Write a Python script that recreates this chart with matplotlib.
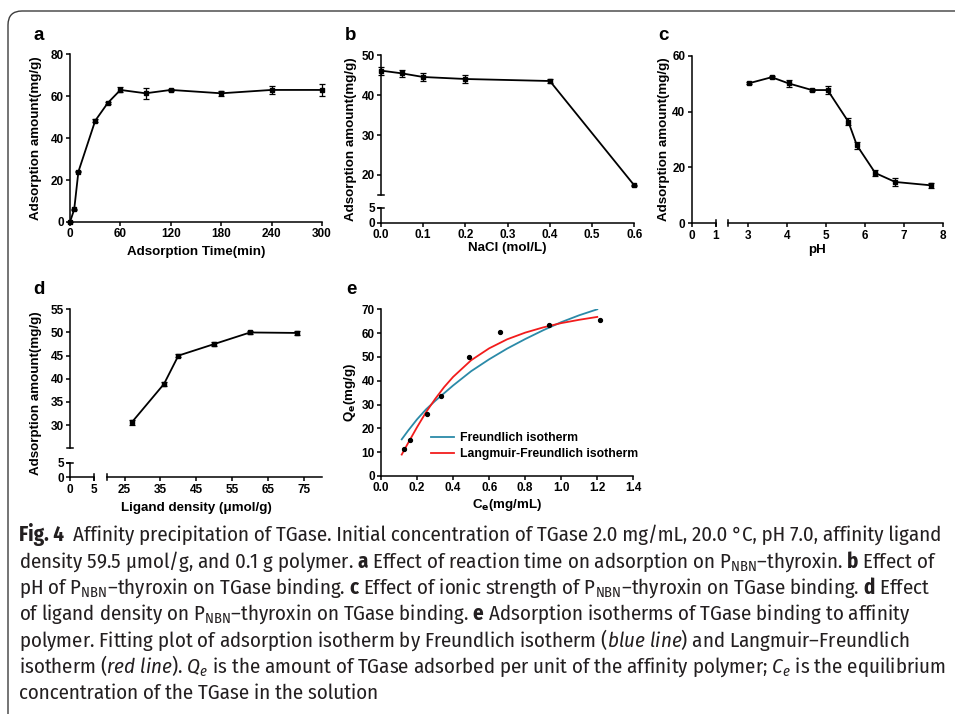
import matplotlib
matplotlib.use('Agg')
import matplotlib.pyplot as plt
from matplotlib import font_manager
from matplotlib.lines import Line2D
from matplotlib.patches import FancyBboxPatch
from matplotlib.transforms import IdentityTransform
from matplotlib.ticker import FormatStrFormatter

W, H = 955, 714

# ---- data ----
# a: adsorption vs time
time_min = [0, 5, 10, 30, 45, 60, 90, 120, 180, 240, 300]
ads_time = [0, 6.0, 24.0, 48.3, 56.8, 63.0, 61.4, 63.0, 61.4, 63.0, 63.0]
ads_time_err = [0, 0.3, 0.3, 0.8, 0.5, 1.2, 2.5, 0.5, 1.3, 1.9, 2.9]
# b: adsorption vs NaCl
nacl = [0.0, 0.05, 0.1, 0.2, 0.4, 0.6]
ads_nacl = [46.1, 45.4, 44.5, 44.0, 43.5, 17.4]
ads_nacl_err = [1.0, 0.9, 1.1, 1.1, 0.5, 0.2]
# c: adsorption vs pH
ph = [3.02, 3.61, 4.04, 4.64, 5.04, 5.57, 5.79, 6.26, 6.77, 7.68]
ads_ph = [50.1, 52.3, 50.1, 47.7, 47.7, 36.4, 27.9, 18.0, 14.8, 13.6]
ads_ph_err = [0.4, 0.4, 1.3, 0.4, 1.3, 1.2, 1.3, 1.0, 1.3, 1.0]
# d: adsorption vs ligand density
ligand = [27, 36, 40, 50, 60, 73]
ads_ligand = [30.6, 38.9, 45.0, 47.5, 50.0, 49.9]
ads_ligand_err = [0.5, 0.5, 0.3, 0.5, 0.3, 0.4]
# e: isotherm points and the two fitted curves
ce = [0.128, 0.161, 0.257, 0.331, 0.488, 0.662, 0.930, 1.217]
qe = [11.2, 15.1, 26.0, 33.8, 50.0, 60.4, 63.4, 65.4]
fr_ce = [0.115, 0.15, 0.2, 0.25, 0.3, 0.4, 0.5, 0.6, 0.7, 0.8, 0.9, 1.0, 1.1, 1.2]
fr_qe = [15.4, 19.0, 23.8, 28.0, 31.5, 38.0, 44.0, 49.0, 53.5, 57.5, 61.2, 64.6, 67.5, 70.0]
lf_ce = [0.115, 0.15, 0.2, 0.25, 0.3, 0.35, 0.4, 0.5, 0.6, 0.7, 0.8, 0.9, 1.0, 1.1, 1.2]
lf_qe = [9.0, 13.8, 20.5, 26.8, 32.3, 37.3, 41.6, 48.6, 53.6, 57.4, 60.2, 62.4, 64.2, 65.6, 66.8]

fig_tag = 'Fig. 4'
caption = [
    'Affinity precipitation of TGase. Initial concentration of TGase 2.0 mg/mL, 20.0 °C, pH 7.0, affinity ligand',
    r'density 59.5 μmol/g, and 0.1 g polymer. $\mathbf{a}$ Effect of reaction time on adsorption on P$_{\mathrm{NBN}}$–thyroxin. $\mathbf{b}$ Effect of',
    r'pH of P$_{\mathrm{NBN}}$–thyroxin on TGase binding. $\mathbf{c}$ Effect of ionic strength of P$_{\mathrm{NBN}}$–thyroxin on TGase binding. $\mathbf{d}$ Effect',
    r'of ligand density on P$_{\mathrm{NBN}}$–thyroxin on TGase binding. $\mathbf{e}$ Adsorption isotherms of TGase binding to affinity',
    r'polymer. Fitting plot of adsorption isotherm by Freundlich isotherm ($\mathit{blue\ line}$) and Langmuir–Freundlich',
    r'isotherm ($\mathit{red\ line}$). $Q_e$ is the amount of TGase adsorbed per unit of the affinity polymer; $C_e$ is the equilibrium',
    r'concentration of the TGase in the solution',
]

# ---- fonts ----
names = {f.name for f in font_manager.fontManager.ttflist}
cap_font = 'Lato'
for cand in ['Fira Sans Condensed', 'Roboto Condensed', 'Encode Sans Condensed',
             'IBM Plex Sans Condensed', 'Asap Condensed', 'Archivo Narrow', 'PT Sans Narrow']:
    if cand in names:
        cap_font = cand
        break
plt.rcParams['font.family'] = ['Liberation Sans', 'DejaVu Sans']
plt.rcParams['font.weight'] = 'bold'
plt.rcParams['mathtext.fontset'] = 'custom'
plt.rcParams['mathtext.rm'] = cap_font + ':weight=normal'
plt.rcParams['mathtext.it'] = cap_font + ':style=italic:weight=normal'
plt.rcParams['mathtext.bf'] = cap_font + ':weight=bold'

TICK = 8.5
LAB = 9.6


def rect(l, t, r, b):
    return [l / W, 1 - b / H, (r - l) / W, (b - t) / H]


def fx(x):
    return x / W


def fy(y):
    return 1 - y / H


def style(ax, left=True, bottom=True):
    ax.spines['top'].set_visible(False)
    ax.spines['right'].set_visible(False)
    ax.spines['left'].set_visible(left)
    ax.spines['bottom'].set_visible(bottom)
    for s in ax.spines.values():
        s.set_linewidth(1.1)
    ax.tick_params(direction='out', length=3, width=1.1, labelsize=TICK, pad=1.5)
    if not left:
        ax.tick_params(axis='y', left=False, labelleft=False)
    if not bottom:
        ax.tick_params(axis='x', bottom=False, labelbottom=False)
    ax.patch.set_visible(False)


def draw(ax, x, y, e):
    eb = ax.errorbar(x, y, yerr=e, color='black', lw=1.3, marker='s', ms=2.2,
                     capsize=2, capthick=0.9, elinewidth=0.9)
    for a in eb.get_children():
        a.set_clip_on(False)


def cap_h(x, y, half=3):
    fig.add_artist(Line2D([fx(x - half), fx(x + half)], [fy(y), fy(y)], color='black', lw=1.1))


def cap_v(x, y, half=3):
    fig.add_artist(Line2D([fx(x), fx(x)], [fy(y - half), fy(y + half)], color='black', lw=1.1))


def label(x, y, s, rot=0, size=LAB, **kw):
    fig.text(fx(x), fy(y), s, ha='center', va='center', rotation=rot,
             fontsize=size, weight='bold', **kw)


fig = plt.figure(figsize=(W / 100, H / 100), dpi=100)

# ---- a ----
ax = fig.add_axes(rect(70, 54.3, 322, 222))
style(ax)
draw(ax, time_min, ads_time, ads_time_err)
ax.set_xlim(0, 300)
ax.set_xticks(range(0, 301, 60))
ax.set_ylim(0, 80)
ax.set_yticks(range(0, 81, 20))
label(196, 252, 'Adsorption Time(min)')
label(36, 138, 'Adsorption amount(mg/g)', rot=90)
label(39, 36, 'a', size=13.5)

# ---- b ----
bl, br = 381, 634.3
ax = fig.add_axes(rect(bl, 55, br, 195))
style(ax, bottom=False)
draw(ax, nacl, ads_nacl, ads_nacl_err)
ax.set_xlim(0, 0.6)
ax.set_ylim(15, 50)
ax.set_yticks([20, 30, 40, 50])
ax0 = fig.add_axes(rect(bl, 207.7, br, 222.7))
style(ax0)
ax0.set_xlim(0, 0.6)
ax0.set_xticks([0, 0.1, 0.2, 0.3, 0.4, 0.5, 0.6])
ax0.xaxis.set_major_formatter(FormatStrFormatter('%.1f'))
ax0.set_ylim(0, 5)
ax0.set_yticks([0, 5])
cap_h(bl, 195)
cap_h(bl, 207.7)
label((bl + br) / 2, 248, 'NaCl (mol/L)')
label(351, 139, 'Adsorption amount(mg/g)', rot=90)
label(351, 35, 'b', size=13.5)

# ---- c ----
ax0 = fig.add_axes(rect(691.7, 55.7, 716, 223.3))
style(ax0)
ax0.set_xlim(0, 1)
ax0.set_xticks([0, 1])
ax0.set_ylim(0, 60)
ax0.set_yticks(range(0, 61, 20))
ax = fig.add_axes(rect(728.3, 55.7, 943.3, 223.3))
style(ax, left=False)
draw(ax, ph, ads_ph, ads_ph_err)
ax.set_xlim(2.5, 8)
ax.set_xticks(range(3, 9))
ax.set_ylim(0, 60)
cap_v(716, 223.3)
cap_v(728.3, 223.3)
label(817, 250, 'pH')
label(664, 139.5, 'Adsorption amount(mg/g)', rot=90)
label(663, 35, 'c', size=13.5)

# ---- d ----
ay = fig.add_axes(rect(70, 309.3, 321.7, 448.3))
style(ay, bottom=False)
ay.set_ylim(25, 55)
ay.set_yticks(range(30, 56, 5))
ax = fig.add_axes(rect(106.7, 309.3, 321.7, 448.3))
style(ax, left=False, bottom=False)
draw(ax, ligand, ads_ligand, ads_ligand_err)
ax.set_xlim(20, 80)
ax.set_ylim(25, 55)
ax0 = fig.add_axes(rect(70, 462.7, 93.7, 477.3))
style(ax0)
ax0.set_xlim(0, 5)
ax0.set_xticks([0, 5])
ax0.set_ylim(0, 5)
ax0.set_yticks([0, 5])
ax1 = fig.add_axes(rect(106.7, 462.7, 321.7, 477.3))
style(ax1, left=False)
ax1.set_xlim(20, 80)
ax1.set_xticks(range(25, 76, 10))
cap_h(70, 448.3)
cap_h(70, 462.7)
cap_v(93.7, 477.3)
cap_v(106.7, 477.3)
label(196, 508, 'Ligand density (μmol/g)')
label(36, 393, 'Adsorption amount(mg/g)', rot=90)
label(39, 290, 'd', size=13.5)

# ---- e ----
ax = fig.add_axes(rect(381, 309.3, 633.3, 476))
style(ax)
ax.plot(fr_ce, fr_qe, color='#2b8aa8', lw=1.3, label='Freundlich isotherm')
ax.plot(lf_ce, lf_qe, color='#f21c1c', lw=1.3, label='Langmuir-Freundlich isotherm')
ax.plot(ce, qe, 'o', color='black', ms=2.8, clip_on=False)
ax.set_xlim(0, 1.4)
ax.set_xticks([0, 0.2, 0.4, 0.6, 0.8, 1.0, 1.2, 1.4])
ax.xaxis.set_major_formatter(FormatStrFormatter('%.1f'))
ax.set_ylim(0, 70)
ax.set_yticks(range(0, 71, 10))
ax.legend(loc='upper left', bbox_to_anchor=(fx(425), fy(426)), bbox_transform=fig.transFigure,
          frameon=False, borderpad=0, handlelength=1.9, handletextpad=0.45,
          labelspacing=0.3, prop={'size': 8.8, 'weight': 'bold'})
label(507, 505, r'C$_\mathbf{e}$(mg/mL)', math_fontfamily='dejavusans')
label(350, 392, r'Q$_\mathbf{e}$(mg/g)', rot=90, math_fontfamily='dejavusans')
label(351, 290, 'e', size=13.5)

# ---- frame around the figure block ----
frame = FancyBboxPatch((8, -40), 1200, H - 11 + 40, boxstyle='round,pad=0,rounding_size=14',
                       transform=IdentityTransform(), facecolor='none', edgecolor='#3c3c3c', lw=1.0)
fig.patches.append(frame)

# ---- caption ----
r = fig.canvas.get_renderer()
x0, gap = 19, 9
p1 = fig.text(0, 0, fig_tag, fontsize=12, family=cap_font, weight='bold')
p2 = fig.text(0, 0, caption[0], fontsize=12, family=cap_font, weight='normal')
w12 = p1.get_window_extent(r).width + p2.get_window_extent(r).width
p1.remove()
p2.remove()
cap_size = 12 * (946 - x0 - gap) / w12
tag = fig.text(fx(x0), fy(535), fig_tag, fontsize=cap_size, family=cap_font,
               weight='bold', color='#231f20', ha='left', va='center')
x1 = x0 + tag.get_window_extent(r).width + gap
for i, line in enumerate(caption):
    fig.text(fx(x1 if i == 0 else x0), fy(535 + 26.3 * i), line, fontsize=cap_size,
             family=cap_font, weight='normal', color='#231f20', ha='left', va='center')

fig.savefig('out.png', dpi=100)
